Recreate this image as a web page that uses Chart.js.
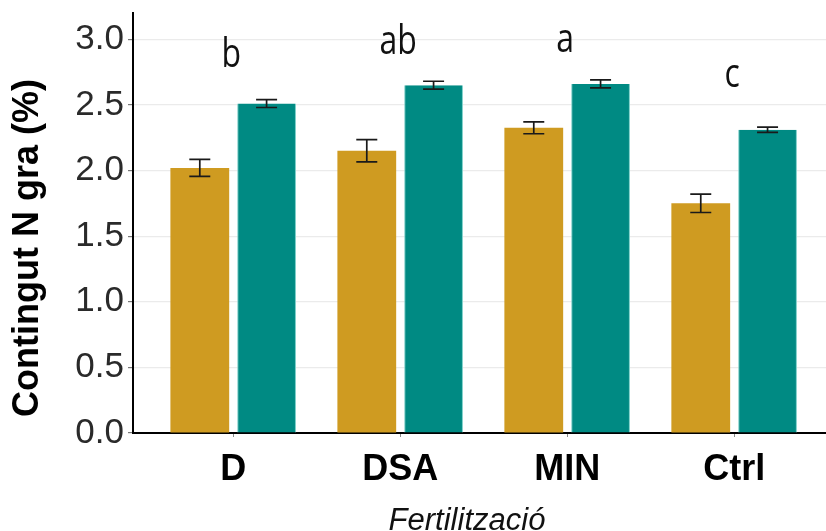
<!DOCTYPE html>
<html>
<head>
<meta charset="utf-8">
<script src="https://cdn.jsdelivr.net/npm/chart.js@4"></script>
<style>
  html, body { margin: 0; padding: 0; background: #fff; }
  #wrap { width: 826px; height: 531px; position: relative; }
</style>
</head>
<body>
<div id="wrap"><canvas id="chart"></canvas></div>
<script>
// Contingut de N al gra per fertilització (dues sèries, barres amb error)
const categories = ["D", "DSA", "MIN", "Ctrl"];
const goldValues = [2.02, 2.15, 2.325, 1.75];
const goldErrors = [0.065, 0.085, 0.045, 0.07];
const tealValues = [2.51, 2.65, 2.66, 2.31];
const tealErrors = [0.03, 0.03, 0.03, 0.02];
const groupLetters = ["b", "ab", "a", "c"];
const letterLevels = [2.79, 2.89, 2.90, 2.64];
const yTicks = [0, 0.5, 1.0, 1.5, 2.0, 2.5, 3.0];

const GOLD = "#CF9B21";
const TEAL = "#008A83";

function toPoints(values) {
    return values.map((v, i) => ({ x: i + 1, y: v }));
}

const errorBarsPlugin = {
    id: "errorBars",
    afterDatasetsDraw(chart) {
        const ctx = chart.ctx;
        const yScale = chart.scales.y;
        [goldErrors, tealErrors].forEach((errs, di) => {
            const meta = chart.getDatasetMeta(di);
            const pts = chart.data.datasets[di].data;
            meta.data.forEach((bar, i) => {
                const v = pts[i].y;
                const top = yScale.getPixelForValue(v + errs[i]);
                const bot = yScale.getPixelForValue(v - errs[i]);
                const x = bar.x;
                ctx.save();
                ctx.strokeStyle = "#1a1a1a";
                ctx.lineWidth = 1.7;
                ctx.beginPath();
                ctx.moveTo(x, top); ctx.lineTo(x, bot);
                ctx.moveTo(x - 10.5, top); ctx.lineTo(x + 10.5, top);
                ctx.moveTo(x - 10.5, bot); ctx.lineTo(x + 10.5, bot);
                ctx.stroke();
                ctx.restore();
            });
        });
    }
};

const lettersPlugin = {
    id: "groupLetters",
    afterDatasetsDraw(chart) {
        const ctx = chart.ctx;
        const xScale = chart.scales.x;
        const yScale = chart.scales.y;
        groupLetters.forEach((txt, i) => {
            const x = xScale.getPixelForValue(i + 1) - 2;
            const y = yScale.getPixelForValue(letterLevels[i]);
            ctx.save();
            ctx.translate(x, y);
            ctx.scale(0.8, 1);
            ctx.font = "40px 'Open Sans'";
            ctx.fillStyle = "#111";
            ctx.textAlign = "center";
            ctx.textBaseline = "alphabetic";
            ctx.fillText(txt, 0, 0);
            ctx.restore();
        });
    }
};

// títols dels eixos, posats on són a la figura original
const axisTitlesPlugin = {
    id: "axisTitles",
    afterDraw(chart) {
        const ctx = chart.ctx;
        ctx.save();
        ctx.translate(28, 248);
        ctx.rotate(-Math.PI / 2);
        ctx.font = "bold 36px 'Liberation Sans', Arial, sans-serif";
        ctx.fillStyle = "#000";
        ctx.textAlign = "center";
        ctx.textBaseline = "middle";
        ctx.fillText("Contingut N gra (%)", 0, 0);
        ctx.restore();

        ctx.save();
        ctx.font = "italic 31px 'Liberation Sans', Arial, sans-serif";
        ctx.fillStyle = "#111";
        ctx.textAlign = "center";
        ctx.textBaseline = "alphabetic";
        ctx.fillText("Fertilització", 467, 530);
        ctx.restore();
    }
};

new Chart(document.getElementById("chart"), {
    type: "bar",
    data: {
        datasets: [
            {
                label: "Sèrie 1",
                data: toPoints(goldValues),
                backgroundColor: GOLD,
                borderWidth: 0
            },
            {
                label: "Sèrie 2",
                data: toPoints(tealValues),
                backgroundColor: TEAL,
                borderColor: "#7ccfc9",
                borderWidth: { left: 1, right: 1, top: 0, bottom: 0 }
            }
        ]
    },
    options: {
        responsive: true,
        maintainAspectRatio: false,
        animation: false,
        categoryPercentage: 0.8,
        barPercentage: 0.88,
        layout: { padding: { top: 13, left: 0, right: 0, bottom: 0 } },
        plugins: {
            legend: { display: false },
            tooltip: { enabled: false }
        },
        scales: {
            x: {
                type: "linear",
                offset: false,
                min: 0.4,
                max: 4.55,
                afterBuildTicks(axis) {
                    axis.ticks = categories.map((c, i) => ({ value: i + 1 }));
                },
                afterFit(axis) {
                    axis.height = 98;
                    axis.paddingLeft = 0;
                    axis.paddingRight = 0;
                },
                grid: {
                    offset: false,
                    drawOnChartArea: false,
                    drawTicks: true,
                    tickLength: 4,
                    tickColor: "#888"
                },
                border: { display: true, color: "#000", width: 2 },
                ticks: {
                    autoSkip: false,
                    maxRotation: 0,
                    padding: 11,
                    color: "#000",
                    font: { family: "'Liberation Sans', Arial, sans-serif", size: 36, weight: "bold" },
                    callback: (v) => categories[Math.round(v) - 1] ?? ""
                },
                title: { display: false }
            },
            y: {
                min: 0,
                max: 3.2,
                afterBuildTicks(axis) {
                    axis.ticks = yTicks.map(v => ({ value: v }));
                },
                afterFit(axis) {
                    axis.width = 133;
                    axis.paddingTop = 0;
                    axis.paddingBottom = 0;
                },
                grid: {
                    color: "#ebebeb",
                    lineWidth: 1.2,
                    tickLength: 5,
                    tickColor: "#777"
                },
                border: { display: true, color: "#000", width: 2 },
                ticks: {
                    padding: 4,
                    color: "#2a2a2a",
                    font: { family: "'Liberation Sans', Arial, sans-serif", size: 35 },
                    callback: (v) => Number(v).toFixed(1)
                }
            }
        }
    },
    plugins: [errorBarsPlugin, lettersPlugin, axisTitlesPlugin]
});
</script>
</body>
</html>
